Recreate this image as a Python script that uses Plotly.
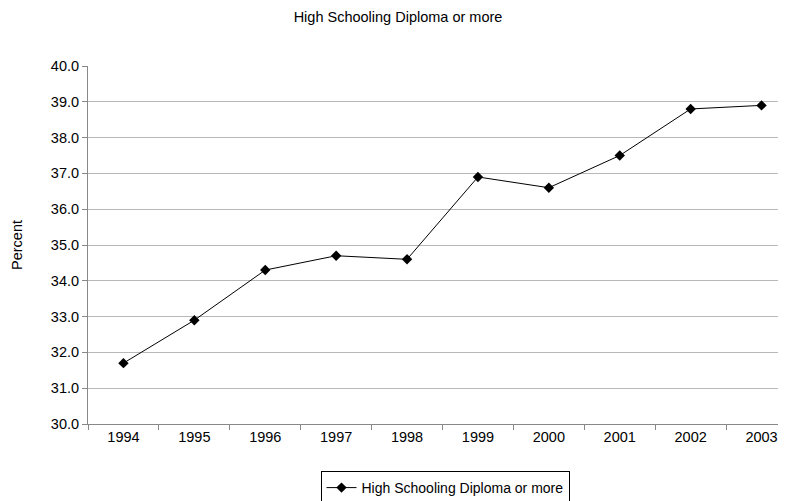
import plotly.graph_objects as go

years = ["1994", "1995", "1996", "1997", "1998", "1999", "2000", "2001", "2002", "2003"]
values = [31.7, 32.9, 34.3, 34.7, 34.6, 36.9, 36.6, 37.5, 38.8, 38.9]
series_name = "High Schooling Diploma or more"
chart_title = "High Schooling Diploma or more"
y_title = "Percent"
y_ticks = [30, 31, 32, 33, 34, 35, 36, 37, 38, 39, 40]

# page body has an 8px margin: figure is 778x493 placed at (8, 8)
W, H = 778, 493

fig = go.Figure()
fig.add_trace(go.Scatter(
    x=years, y=values, name=series_name, mode="lines+markers",
    line=dict(color="black", width=1),
    marker=dict(symbol="diamond", size=8, color="black"),
))

font = "Liberation Sans, Arial, sans-serif"
fs = 14.5
fig.update_layout(
    width=W, height=H,
    paper_bgcolor="white", plot_bgcolor="white",
    margin=dict(l=80, r=0, t=58, b=77, autoexpand=False),
    font=dict(family=font, size=fs, color="black"),
    title=dict(text=chart_title, x=390/W, xanchor="center", xref="container",
               y=1-9/H, yanchor="middle", yref="container",
               font=dict(size=fs, family=font, color="black")),
    showlegend=True,
    legend=dict(orientation="h", x=437/W, xanchor="center", xref="container",
                y=1-463/H, yanchor="top", yref="container",
                bordercolor="black", borderwidth=1, bgcolor="white",
                font=dict(size=14, family=font), itemwidth=30,
                tracegroupgap=0),
)
fig.update_xaxes(
    type="category", range=[-0.5, 9.345],
    tickson="boundaries", ticks="outside", ticklen=5, tickcolor="#888888",
    showline=True, linecolor="#888888", linewidth=1,
    showgrid=False, tickfont=dict(size=fs),
)
fig.update_yaxes(
    range=[30, 40], tickvals=y_ticks, tickformat=".1f",
    ticks="outside", ticklen=5, tickcolor="#888888",
    showline=True, linecolor="#888888", linewidth=1,
    showgrid=True, gridcolor="#b8b8b8", gridwidth=1,
    zeroline=False, tickfont=dict(size=fs),
    title=dict(text=y_title, font=dict(size=fs), standoff=24),
)

fig.write_html("out.html")
